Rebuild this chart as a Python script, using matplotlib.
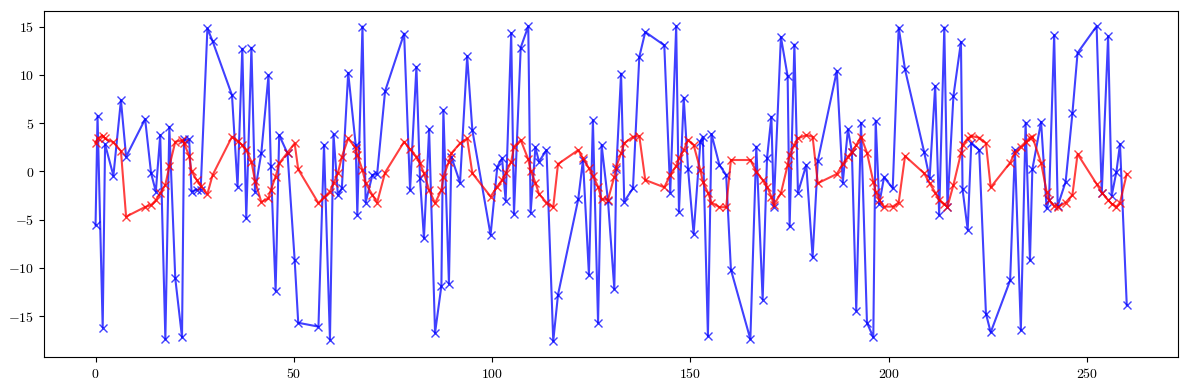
import matplotlib
matplotlib.use("Agg")
import matplotlib.pyplot as plt
from matplotlib.ticker import FuncFormatter

plt.rcParams['mathtext.fontset'] = 'cm'

# sample positions (shared by both series)
x = [0.0, 0.5, 1.8, 2.4, 4.5, 6.4, 7.7, 12.5, 14.0, 15.2, 16.3, 17.6, 18.6, 20.1, 21.8, 22.3,
     23.6, 24.2, 25.5, 26.5, 28.2, 29.5, 34.4, 35.8, 37.0, 38.0, 39.3, 40.2, 41.8, 43.6, 44.2,
     45.4, 46.3, 48.4, 50.2, 51.1, 56.2, 57.6, 59.1, 60.0, 61.1, 62.1, 63.7, 65.6, 66.0, 67.3,
     68.1, 69.8, 71.0, 73.0, 77.8, 79.3, 80.9, 81.8, 82.8, 84.1, 85.6, 87.2, 87.7, 89.1, 89.7,
     91.9, 93.7, 95.0, 99.6, 101.3, 102.5, 103.4, 104.8, 105.5, 107.2, 109.1, 109.7, 110.9,
     111.8, 113.7, 115.4, 116.6, 121.7, 122.9, 124.4, 125.4, 126.7, 127.6, 129.2, 130.8, 131.3,
     132.5, 133.3, 135.5, 137.1, 138.6, 143.4, 144.9, 146.4, 147.1, 148.3, 149.4, 150.8, 152.5,
     153.1, 154.4, 155.3, 157.3, 159.0, 160.2, 165.1, 166.6, 168.2, 169.3, 170.4, 171.0, 172.8,
     174.5, 175.0, 176.2, 177.1, 179.2, 180.8, 182.1, 186.9, 188.4, 189.7, 190.7, 191.8, 193.0,
     194.5, 196.1, 196.7, 197.6, 198.8, 201.0, 202.5, 204.1, 208.9, 210.3, 211.7, 212.7, 214.0,
     214.8, 216.3, 218.2, 218.6, 219.9, 220.8, 222.8, 224.5, 225.7, 230.6, 231.8, 233.3, 234.5,
     235.6, 236.2, 238.4, 239.8, 240.4, 241.7, 242.6, 244.6, 246.3, 247.6, 252.4, 253.7, 255.3,
     256.2, 257.4, 258.3, 260.0]

noisy = [-5.55, 5.72, -16.2, 2.79, -0.45, 7.37, 1.51, 5.41, -0.2, -2.1, 3.75, -17.4, 4.6, -11.1,
         -17.2, 3.3, 3.3, -2.1, -1.9, -1.9, 14.8, 13.5, 7.89, -1.59, 12.7, -4.87, 12.8, -2.1, 1.93,
         9.93, 0.55, -12.4, 3.75, 1.86, -9.17, -15.7, -16.1, 2.72, -17.45, 3.83, -2.45, -1.76,
         10.2, 2.72, -4.5, 15.0, -3.24, -0.38, -0.28, 8.3, 14.27, -1.93, 10.82, -0.72, -6.93,
         4.34, -16.75, -11.86, 6.34, -11.65, 1.51, -1.18, 11.92, 4.27, -6.59, 0.48, 1.34, -3.04,
         14.33, -4.42, 12.82, 15.03, -4.28, 2.48, 1.0, 2.2, -17.6, -12.8, -2.9, 1.17, -10.73, 5.3,
         -15.7, 2.72, -3.04, -12.2, 0.2, 10.13, -3.14, -1.76, 11.86, 14.44, 13.06, -2.2, 15.03,
         -4.17, 7.62, 0.2, -6.49, 3.06, 3.58, -17.1, 3.86, 0.65, -0.38, -10.2, -17.4, 2.55, -13.3,
         1.34, 5.65, -3.66, 13.92, 9.86, -5.72, 13.13, -2.2, 0.65, -8.9, 1.06, 10.4, -1.17, 4.34,
         2.03, -14.45, 5.03, -15.7, -17.2, 5.24, -3.38, -0.62, -1.76, 14.9, 10.55, 2.03, -0.72,
         8.82, -4.52, 14.9, -3.66, 7.79, 13.4, -1.86, -6.07, 2.96, 2.2, -14.76, -16.69, -11.31,
         2.2, -16.48, 5.03, -9.24, 0.2, 5.13, -3.83, -2.97, 14.1, -3.59, -1.07, 6.0, 12.27, 15.03,
         -2.28, 13.99, -2.55, -0.03, 2.82, -13.83]

smooth = [2.9, 3.4, 3.65, 3.4, 3.0, 2.1, -4.7, -3.7, -3.5, -3.0, -2.3, -1.4, 0.5, 3.06, 3.2, 2.9,
          1.6, 0.0, -0.9, -1.5, -2.35, -0.4, 3.58, 3.13, 2.72, 2.2, 1.0, -0.97, -3.2, -2.8, -1.93,
          -0.55, 0.82, 1.93, 2.9, 0.2, -3.3, -2.7, -2.1, -1.24, -0.2, 1.5, 3.4, 2.4, 1.7, 0.13,
          -1.24, -2.45, -3.24, -0.13, 3.06, 2.27, 1.51, 0.82, -0.2, -1.93, -3.3, -1.93, -0.55, 1.0,
          1.86, 2.9, 3.4, -0.2, -2.62, -1.59, -0.9, -0.2, 1.0, 2.55, 3.24, 1.24, 0.07, -1.17, -2.35,
          -3.24, -3.72, 0.75, 2.2, 1.34, 0.31, -0.45, -1.59, -2.9, -2.96, -0.55, 0.48, 1.86, 2.9,
          3.58, 3.65, -0.9, -1.66, -0.38, 0.55, 1.34, 2.2, 3.24, 2.72, 0.13, -1.07, -2.2, -3.24,
          -3.72, -3.72, 1.17, 1.17, -0.03, -0.9, -1.59, -2.62, -3.48, -2.28, 0.65, 1.69, 2.72, 3.41,
          3.75, 3.58, -1.24, -0.28, 0.75, 1.51, 2.0, 2.72, 3.58, 1.93, -1.07, -2.1, -2.97, -3.66,
          -3.66, -3.24, 1.58, -0.2, -1.24, -2.2, -2.97, -3.38, -3.66, -1.42, 1.86, 2.72, 3.41, 3.65,
          3.48, 2.9, -1.66, 0.89, 1.93, 2.55, 3.06, 3.5, 3.6, 0.89, -2.1, -2.97, -3.59, -3.72, -3.24,
          -2.45, 1.79, -1.31, -2.2, -2.97, -3.38, -3.66, -3.24, -0.28]

fig, ax = plt.subplots(figsize=(11.89, 3.9), dpi=100)
fig.subplots_adjust(left=0.037, right=0.991, bottom=0.085, top=0.973)

ax.plot(x, noisy, color='b', marker='x', alpha=0.75, linewidth=1.5)
ax.plot(x, smooth, color='r', marker='x', alpha=0.75, linewidth=1.5)

fmt = FuncFormatter(lambda v, pos: f'${v:g}$')
ax.xaxis.set_major_formatter(fmt)
ax.yaxis.set_major_formatter(fmt)

fig.savefig("out.png", dpi=100)
